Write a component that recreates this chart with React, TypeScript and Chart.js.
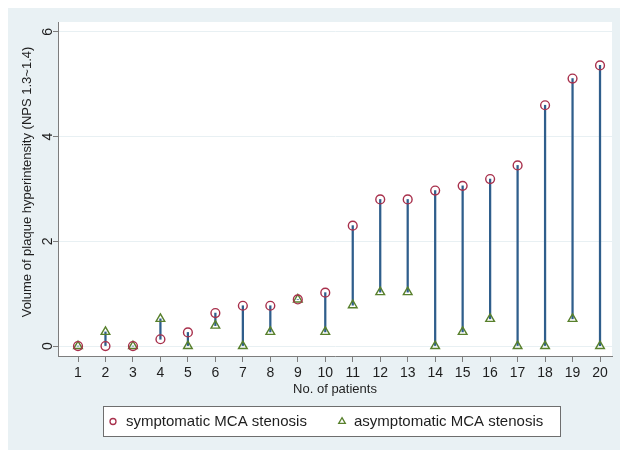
import React, { useEffect, useRef } from "react";
import { Chart, registerables } from "chart.js";

Chart.register(...registerables);

const patients = [1, 2, 3, 4, 5, 6, 7, 8, 9, 10, 11, 12, 13, 14, 15, 16, 17, 18, 19, 20];
const symptomatic = [0, 0, 0, 0.13, 0.26, 0.63, 0.77, 0.77, 0.89, 1.02, 2.3, 2.8, 2.8, 2.97, 3.06, 3.19, 3.45, 4.6, 5.11, 5.36];
const asymptomatic = [0, 0.27, 0, 0.52, 0, 0.39, 0, 0.27, 0.89, 0.27, 0.78, 1.03, 1.03, 0, 0.27, 0.52, 0, 0, 0.52, 0];
const xTicks = patients;
const yTicks = [0, 2, 4, 6];
const seriesLabels = ["symptomatic MCA stenosis", "asymptomatic MCA stenosis"];
const xTitle = "No. of patients";
const yTitle = "Volume of plaque hyperintensity (NPS 1.3~1.4)";

const FONT = '"Liberation Sans", Arial, Helvetica, sans-serif';
const BG = "#e9f1f4";
const RED = "#a8304c";
const GREEN = "#58802c";
const BLUE = "#2f5e8c";
const AXIS = "#7d7d7d";
const TEXT = "#1e1e1e";

const backgroundPlugin = {
  id: "bgPlugin",
  beforeDraw(chart: any) {
    const { ctx, chartArea, width, height } = chart;
    ctx.save();
    ctx.fillStyle = BG;
    ctx.fillRect(0, 0, width, height);
    ctx.fillStyle = "#ffffff";
    ctx.fillRect(chartArea.left, chartArea.top, chartArea.right - chartArea.left, chartArea.bottom - chartArea.top);
    ctx.restore();
  },
};

const yTitlePlugin = {
  id: "yTitle",
  afterDraw(chart: any) {
    const { ctx } = chart;
    ctx.save();
    ctx.translate(19, 174);
    ctx.rotate(-Math.PI / 2);
    ctx.fillStyle = TEXT;
    ctx.font = `13px ${FONT}`;
    ctx.textAlign = "center";
    ctx.textBaseline = "middle";
    ctx.fillText(yTitle, 0, 0);
    ctx.restore();
  },
};

const legendPlugin = {
  id: "boxLegend",
  afterDraw(chart: any) {
    const { ctx } = chart;
    ctx.save();
    const bx = 95.5, by = 398.5, bw = 457, bh = 30;
    ctx.fillStyle = "#ffffff";
    ctx.fillRect(bx, by, bw, bh);
    ctx.strokeStyle = "#6e6e6e";
    ctx.lineWidth = 1;
    ctx.strokeRect(bx, by, bw, bh);
    const cy = by + bh / 2;
    ctx.strokeStyle = RED;
    ctx.lineWidth = 1.3;
    ctx.beginPath();
    ctx.arc(105, cy, 3, 0, Math.PI * 2);
    ctx.stroke();
    ctx.strokeStyle = GREEN;
    ctx.beginPath();
    const tx = 334, r = 3.8;
    ctx.moveTo(tx, cy - r);
    ctx.lineTo(tx + r * 0.87, cy + r * 0.5);
    ctx.lineTo(tx - r * 0.87, cy + r * 0.5);
    ctx.closePath();
    ctx.stroke();
    ctx.fillStyle = TEXT;
    ctx.font = `15px ${FONT}`;
    ctx.textBaseline = "middle";
    ctx.textAlign = "left";
    ctx.fillText(seriesLabels[0], 118, cy + 0.5);
    ctx.fillText(seriesLabels[1], 346, cy + 0.5);
    ctx.restore();
  },
};

export default function App() {
  const ref = useRef<HTMLCanvasElement | null>(null);
  useEffect(() => {
    if (!ref.current) return;
    const chart = new Chart(ref.current, {
      type: "bar",
      data: {
        datasets: [
          {
            type: "scatter",
            label: seriesLabels[0],
            data: patients.map((p, i) => ({ x: p, y: symptomatic[i] })),
            pointStyle: "circle",
            pointRadius: 4.4,
            borderColor: RED,
            backgroundColor: "rgba(0,0,0,0)",
            borderWidth: 1.4,
            order: 1,
          } as any,
          {
            type: "scatter",
            label: seriesLabels[1],
            data: patients.map((p, i) => ({ x: p, y: asymptomatic[i] })),
            pointStyle: "triangle",
            pointRadius: 5,
            borderColor: GREEN,
            backgroundColor: "rgba(0,0,0,0)",
            borderWidth: 1.4,
            order: 2,
          } as any,
          {
            type: "bar",
            label: "range",
            data: patients.map((p, i) => ({
              x: p,
              y: [Math.min(symptomatic[i], asymptomatic[i]), Math.max(symptomatic[i], asymptomatic[i])],
            })),
            backgroundColor: BLUE,
            borderWidth: 0,
            barThickness: 1.6,
            grouped: false,
            order: 3,
          } as any,
        ],
      },
      options: {
        animation: false,
        responsive: true,
        maintainAspectRatio: false,
        layout: { padding: { top: 14, right: 8, left: 0, bottom: 0 } },
        plugins: { legend: { display: false }, tooltip: { enabled: false } },
        scales: {
          x: {
            type: "linear",
            min: 0.272,
            max: 20.436,
            offset: false,
            afterBuildTicks: (s: any) => {
              s.ticks = xTicks.map((v) => ({ value: v }));
            },
            afterFit: (s: any) => {
              s.height = 94;
            },
            grid: { drawOnChartArea: false, drawTicks: true, tickLength: 6, tickColor: AXIS, offset: false },
            border: { display: true, color: AXIS, width: 1 },
            ticks: {
              autoSkip: false,
              maxRotation: 0,
              minRotation: 0,
              padding: 3,
              color: TEXT,
              font: { family: FONT, size: 14 },
              callback: (v: any) => String(v),
            },
            title: {
              display: true,
              text: xTitle,
              color: TEXT,
              font: { family: FONT, size: 13 },
              padding: { top: 0, bottom: 53 },
            },
          },
          y: {
            type: "linear",
            min: -0.19,
            max: 6.19,
            afterBuildTicks: (s: any) => {
              s.ticks = yTicks.map((v) => ({ value: v }));
            },
            afterFit: (s: any) => {
              s.width = 50;
            },
            grid: { color: "#e8f0f3", lineWidth: 1, drawTicks: true, tickLength: 5, tickColor: AXIS },
            border: { display: true, color: AXIS, width: 1 },
            ticks: {
              minRotation: 90,
              maxRotation: 90,
              crossAlign: "center",
              padding: 1,
              color: TEXT,
              font: { family: FONT, size: 14 },
              callback: (v: any) => String(v),
            },
            title: { display: false },
          },
        },
      } as any,
      plugins: [backgroundPlugin, yTitlePlugin, legendPlugin],
    });
    return () => chart.destroy();
  }, []);

  return (
    <div style={{ position: "fixed", left: 8, top: 8, width: 612, height: 442 }}>
      <canvas ref={ref} />
    </div>
  );
}
